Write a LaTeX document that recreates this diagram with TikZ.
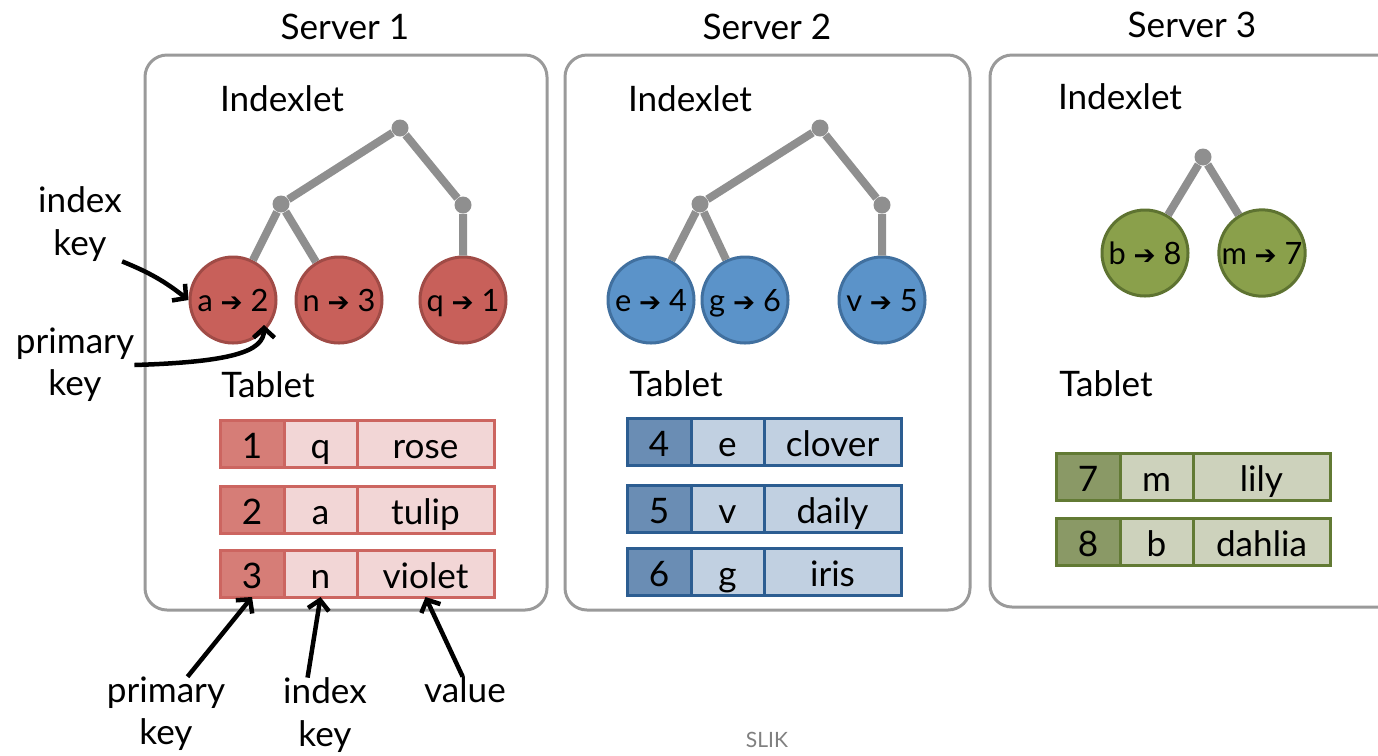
\documentclass[tikz,border=0pt]{standalone}
\usepackage{fontspec}
\setmainfont{Lato}
\newfontfamily\symfont{DejaVu Sans}
\usetikzlibrary{arrows.meta}

\newdimen\px \px=0.02cm
\newcommand{\keyarrow}{{\symfont\fontsize{15}{16}\selectfont ➔}}

\definecolor{boxgray}{HTML}{9A9A9A}
\definecolor{treegray}{HTML}{8F8F8F}
\definecolor{redleaf}{HTML}{C8605A}
\definecolor{redrim}{HTML}{A04B46}
\definecolor{redline}{HTML}{CC6560}
\definecolor{redkey}{HTML}{D67D77}
\definecolor{redcell}{HTML}{F2D6D6}
\definecolor{blueleaf}{HTML}{5B93C9}
\definecolor{bluerim}{HTML}{41709F}
\definecolor{blueline}{HTML}{2C5D91}
\definecolor{bluekey}{HTML}{6A8DB4}
\definecolor{bluecell}{HTML}{C1D0E1}
\definecolor{greenleaf}{HTML}{8AA04B}
\definecolor{greenrim}{HTML}{5E7331}
\definecolor{greenline}{HTML}{627A34}
\definecolor{greenkey}{HTML}{8A9966}
\definecolor{greencell}{HTML}{CDD2BC}

\tikzset{
  server/.style={draw=boxgray, line width=3\px, rounded corners=22\px},
  lbl/.style={font=\fontsize{20}{24}\selectfont, align=center, inner sep=0},
  joint/.style={circle, fill=treegray, inner sep=0, minimum size=17\px},
  branch/.style={draw=treegray, line width=8\px},
  leaf/.style={circle, fill=#1leaf, draw=#1rim, line width=3\px, minimum size=86\px,
    inner sep=0, text height=26\px, text depth=4\px, font=\fontsize{17.5}{20}\selectfont},
  cellbase/.style={rectangle, anchor=north west, outer sep=0, inner sep=0, line width=3\px,
    minimum height=47\px, text height=32\px, text depth=2\px, font=\fontsize{20}{24}\selectfont},
  keycell/.style={cellbase, minimum width=64\px, draw=#1line, fill=#1key},
  idxcell/.style={cellbase, minimum width=73\px, draw=#1line, fill=#1cell},
  valcell/.style={cellbase, minimum width=137\px, draw=#1line, fill=#1cell},
  callout/.style={line width=4.5\px, -{Straight Barb[length=5.5pt,width=12pt]}},
}

\begin{document}
\begin{tikzpicture}[x=0.02cm, y=0.02cm]
  \useasboundingbox (0,0) rectangle (1378,-755);

  % servers
  \draw[server] (145,-55) rectangle (547,-610);
  \draw[server] (565,-55) rectangle (970,-610);
  \draw[server] (990,-55) rectangle (1410,-607);
  \node[lbl] (srv1) at (345,-27) {Server 1};
  \node[lbl] (srv2) at (767,-27) {Server 2};
  \node[lbl] (srv3) at (1192,-25) {Server 3};

  \node[lbl] (ix1) at (282,-99) {Indexlet};
  \node[lbl] (ix2) at (690,-99) {Indexlet};
  \node[lbl] (ix3) at (1120,-97) {Indexlet};
  \node[lbl] (tb1) at (268,-385) {Tablet};
  \node[lbl] (tb2) at (676,-384) {Tablet};
  \node[lbl] (tb3) at (1106,-384) {Tablet};

  % indexlet trees
  \node[joint] (r1) at (400,-128) {};
  \node[joint] (r1l) at (281,-204) {};
  \node[joint] (r1r) at (463,-205) {};
  \node[leaf=red] (c11) at (233,-300) {a \keyarrow{} 2};
  \node[leaf=red] (c12) at (339,-300) {n \keyarrow{} 3};
  \node[leaf=red] (c13) at (463,-300) {q \keyarrow{} 1};
  \draw[branch] (r1) -- (r1l) (r1) -- (r1r) (r1l) -- (c11) (r1l) -- (c12) (r1r) -- (c13);

  \node[joint] (r2) at (820,-128) {};
  \node[joint] (r2l) at (700,-204) {};
  \node[joint] (r2r) at (882,-205) {};
  \node[leaf=blue] (c21) at (651,-300) {e \keyarrow{} 4};
  \node[leaf=blue] (c22) at (745,-300) {g \keyarrow{} 6};
  \node[leaf=blue] (c23) at (882,-300) {v \keyarrow{} 5};
  \draw[branch] (r2) -- (r2l) (r2) -- (r2r) (r2l) -- (c21) (r2l) -- (c22) (r2r) -- (c23);

  \node[joint] (r3) at (1203,-157) {};
  \node[leaf=green] (c31) at (1145,-253) {b \keyarrow{} 8};
  \node[leaf=green] (c32) at (1262,-253) {m \keyarrow{} 7};
  \draw[branch] (r3) -- (c31) (r3) -- (c32);

  % tablets
  \foreach \k/\t/\v/\y in {1/q/rose/420, 2/a/tulip/486, 3/n/violet/550}{
    \node[keycell=red] (rk\k) at (220,-\y) {\k};
    \node[idxcell=red] (rt\k) at (rk\k.north east) {\t};
    \node[valcell=red] (rv\k) at (rt\k.north east) {\v};
  }
  \foreach \k/\t/\v/\y in {4/e/clover/418, 5/v/daily/485, 6/g/iris/548}{
    \node[keycell=blue] (bk\k) at (627,-\y) {\k};
    \node[idxcell=blue] (bt\k) at (bk\k.north east) {\t};
    \node[valcell=blue] (bv\k) at (bt\k.north east) {\v};
  }
  \foreach \k/\t/\v/\y in {7/m/lily/453, 8/b/dahlia/518}{
    \node[keycell=green] (gk\k) at (1056,-\y) {\k};
    \node[idxcell=green] (gt\k) at (gk\k.north east) {\t};
    \node[valcell=green] (gv\k) at (gt\k.north east) {\v};
  }

  % callouts
  \node[lbl] (ikey) at (80,-224) {index\\key};
  \node[lbl] (pkey) at (75,-365) {primary\\key};
  \coordinate (pktip) at (264,-325);
  \draw[callout] (ikey.south east) to[bend left=8] (c11.west);
  \draw[callout] (pkey.east) .. controls (230,-362) and (264,-352) .. (pktip);

  \node[lbl] (pkeyb) at (166,-714) {primary\\key};
  \node[lbl] (ikeyb) at (325,-715) {index\\key};
  \node[lbl] (valb) at (465,-690) {value};
  \draw[callout] (pkeyb.60) -- (rk3.south);
  \draw[callout] (ikeyb.115) -- (rt3.south);
  \draw[callout] (valb.100) -- (rv3.south);

  \node[text=gray, font=\fontsize{12}{14}\selectfont] (foot) at (767,-740) {SLIK};
\end{tikzpicture}
\end{document}
